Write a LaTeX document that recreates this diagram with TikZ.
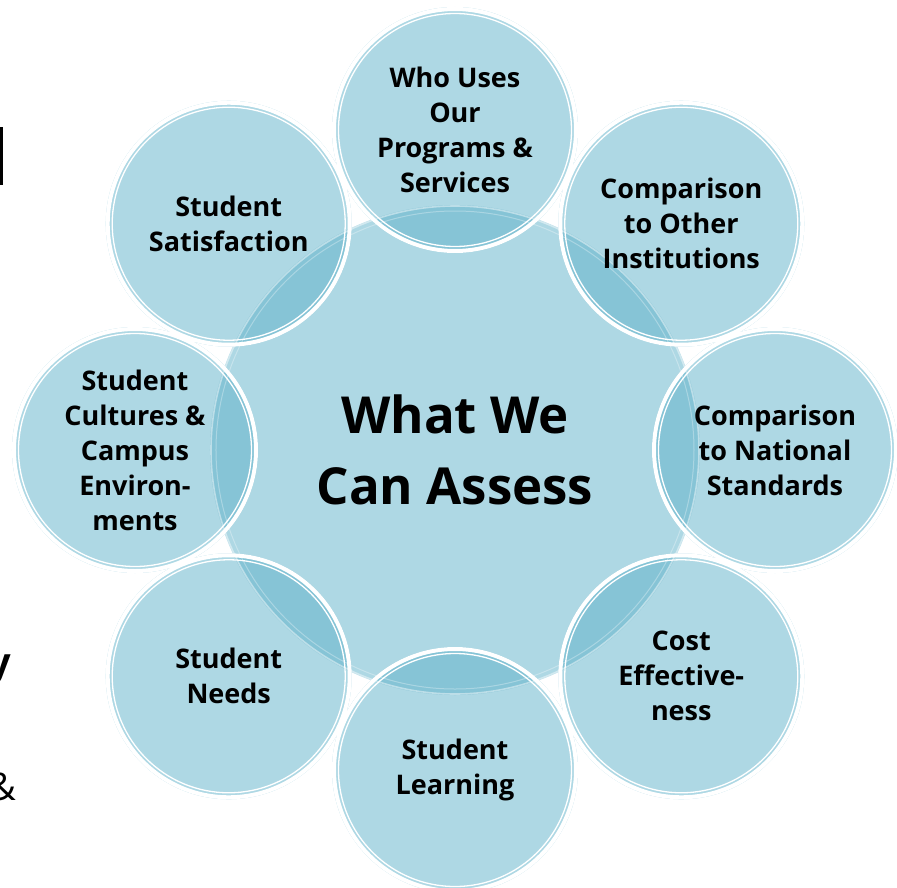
\documentclass[tikz,border=0pt]{standalone}
\usepackage{fontspec}
\setmainfont{Open Sans}

\definecolor{lite}{RGB}{174,216,228}
\definecolor{dark}{RGB}{134,196,214}

\pgfdeclarelayer{back}
\pgfsetlayers{back,main}

\tikzset{
  hub/.style={circle, minimum size=490pt, inner sep=0pt, align=center,
    font=\fontsize{51}{71}\selectfont\bfseries},
  item/.style={circle, minimum size=242pt, inner sep=0pt, align=center,
    font=\fontsize{27}{35}\selectfont\bfseries},
  ring/.style={draw=white, line width=4pt},
  thinring/.style={draw=white, line width=1.3pt},
  frag/.style={inner sep=0pt, font=\fontsize{38}{48}\selectfont},
}

\begin{document}
\begin{tikzpicture}[x=1pt,y=1pt]
\useasboundingbox (-455,-437) rectangle (442,450);

% hub and the eight items round it
\node[hub] (hub) at (0,0) {What We\\Can Assess};
\node[item] (uses) at (90:320) {Who Uses\\Our\\Programs \&\\Services};
\node[item] (others) at (45:320) {Comparison\\to Other\\Institutions};
\node[item] (natl) at (0:320) {Comparison\\to National\\Standards};
\node[item] (cost) at (-45:320) {Cost\\Effective-\\ness};
\node[item] (learn) at (-90:320) {Student\\Learning};
\node[item] (needs) at (-135:320) {Student\\Needs};
\node[item] (cult) at (180:320) {Student\\Cultures \&\\Campus\\Environ-\\ments};
\node[item] (satis) at (135:320) {Student\\Satisfaction};

\begin{pgfonlayer}{back}
  \fill[lite] (hub.center) circle[radius=245pt];
  \fill[lite] (uses.center) circle[radius=123pt] (others.center) circle[radius=123pt]
    (natl.center) circle[radius=123pt] (cost.center) circle[radius=123pt]
    (learn.center) circle[radius=123pt] (needs.center) circle[radius=123pt]
    (cult.center) circle[radius=123pt] (satis.center) circle[radius=123pt];
  % overlap with the hub is darker
  \begin{scope}
    \clip (hub.center) circle[radius=245pt];
    \fill[dark] (uses.center) circle[radius=123pt] (others.center) circle[radius=123pt]
      (natl.center) circle[radius=123pt] (cost.center) circle[radius=123pt]
      (learn.center) circle[radius=123pt] (needs.center) circle[radius=123pt]
      (cult.center) circle[radius=123pt] (satis.center) circle[radius=123pt];
  \end{scope}
  \draw[white, opacity=.45, line width=1.6pt] (hub.center) circle[radius=244pt];
  \draw[white, opacity=.3, line width=1pt] (hub.center) circle[radius=239pt];
  \draw[ring] (uses.center) circle[radius=121pt] (others.center) circle[radius=121pt]
    (natl.center) circle[radius=121pt] (cost.center) circle[radius=121pt]
    (learn.center) circle[radius=121pt] (needs.center) circle[radius=121pt]
    (cult.center) circle[radius=121pt] (satis.center) circle[radius=121pt];
  \draw[thinring] (uses.center) circle[radius=116.5pt] (others.center) circle[radius=116.5pt]
    (natl.center) circle[radius=116.5pt] (cost.center) circle[radius=116.5pt]
    (learn.center) circle[radius=116.5pt] (needs.center) circle[radius=116.5pt]
    (cult.center) circle[radius=116.5pt] (satis.center) circle[radius=116.5pt];
\end{pgfonlayer}

% cut-off slide text at the left edge
\fill (-455,265) rectangle (-452,323);
\node[frag, anchor=base east] (fy) at (-444,-225) {\bfseries y};
\node[frag, anchor=base east] (famp) at (-439,-350) {\&};
\end{tikzpicture}
\end{document}
